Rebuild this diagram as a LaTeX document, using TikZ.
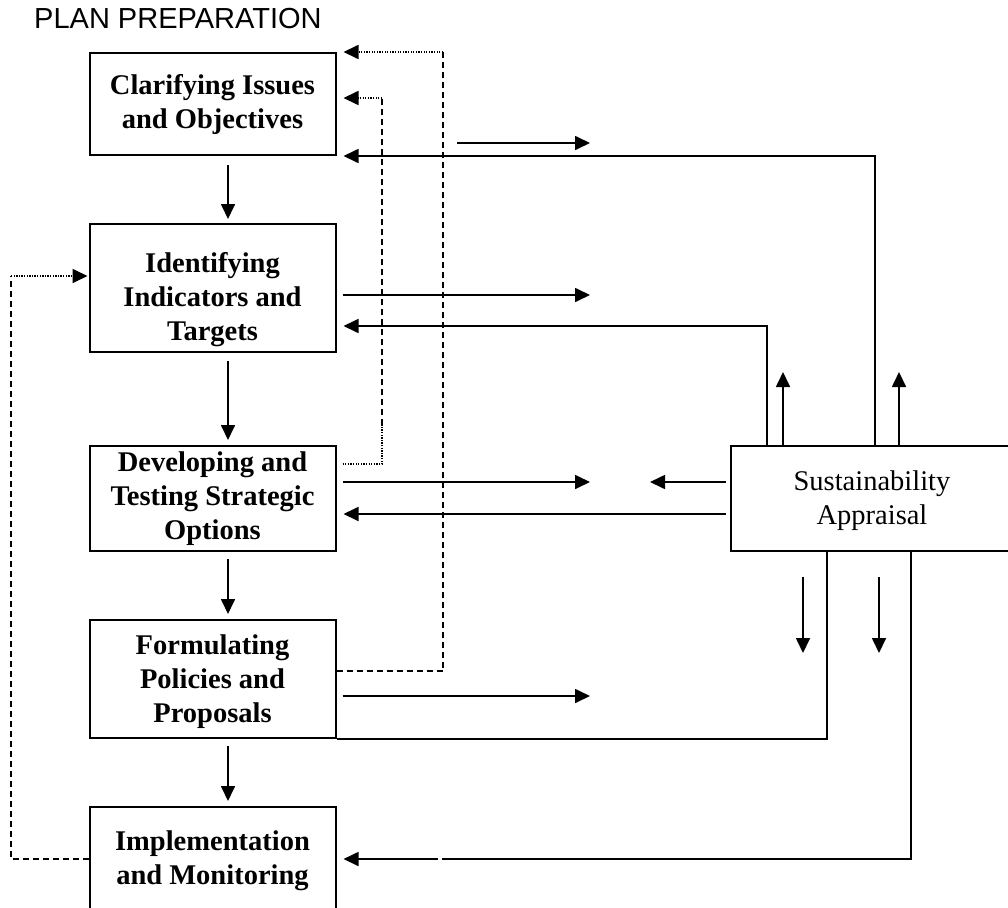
\documentclass[tikz,border=0pt]{standalone}
\usepackage{fontspec}
\setmainfont{Liberation Serif}
\newfontfamily\arialf{Liberation Sans}
\usetikzlibrary{arrows.meta,calc}
\begin{document}
\begin{tikzpicture}[x=1pt,y=-1pt,
  box/.style={draw, line width=2pt, inner sep=0pt, minimum width=246pt, align=center,
    font=\fontsize{28.5}{34}\selectfont\bfseries},
  btext/.style={inner sep=0pt, align=center, font=\fontsize{28.5}{34}\selectfont\bfseries},
  ln/.style={line width=1.7pt},
  arr/.style={line width=1.7pt, -{Triangle[length=15pt,width=14pt]}},
  dsh/.style={line width=1.7pt, dash pattern=on 6pt off 4pt},
  dtt/.style={line width=1.7pt, dash pattern=on 1.3pt off 1.3pt},
  darr/.style={dtt, -{Triangle[length=15pt,width=14pt]}},
]
\useasboundingbox (0,0) rectangle (1008,907);

% title
\node[anchor=west, inner sep=0pt, font=\arialf\fontsize{29}{34}\selectfont] (title) at (34,19) {PLAN PREPARATION};

% left column boxes
\node[box, minimum height=102pt] (b1) at (212.5,104) {Clarifying Issues\\and Objectives};
\node[box, minimum height=128pt] (b2) at (212.5,288) {};
\node[btext] (b2t) at (212.5,300) {Identifying\\Indicators and\\Targets};
\node[box, minimum height=105pt] (b3) at (212.5,498.5) {Developing and\\Testing Strategic\\Options};
\node[box, minimum height=118pt] (b4) at (212.5,679) {};
\node[btext] (b4t) at (212.5,682) {Formulating\\Policies and\\Proposals};
\node[box, minimum height=105pt] (b5) at (212.5,859.5) {};
\node[btext] (b5t) at (212.5,861) {Implementation\\and Monitoring};

% sustainability appraisal
\node[draw, line width=2pt, inner sep=0pt, minimum width=282pt, minimum height=105pt] (sa) at (872,498.5) {};
\node[inner sep=0pt, align=center, font=\fontsize{28.5}{34}\selectfont] (sat) at (872,501) {Sustainability\\Appraisal};

% vertical arrows between boxes
\draw[arr] ([xshift=15.5pt,yshift=-9pt]b1.south) -- ([xshift=15.5pt,yshift=4pt]b2.north);
\draw[arr] ([xshift=15.5pt,yshift=-8pt]b2.south) -- ([xshift=15.5pt,yshift=5pt]b3.north);
\draw[arr] ([xshift=15.5pt,yshift=-7pt]b3.south) -- ([xshift=15.5pt,yshift=5pt]b4.north);
\draw[arr] ([xshift=15.5pt,yshift=-7pt]b4.south) -- ([xshift=15.5pt,yshift=5pt]b5.north);

% coordinates
\coordinate (s1) at (457,143);
\coordinate (e1) at (590,143);
\coordinate (e2) at (590,295);
\coordinate (e3) at (590,482);
\coordinate (e4) at (590,696);
\coordinate (l1) at (650,482);
\coordinate (y514) at (0,514);
\coordinate (y326) at (0,326);
\coordinate (x875) at (875,0);
\coordinate (x767) at (767,0);
\coordinate (x827) at (827,0);
\coordinate (x911) at (911,0);
\coordinate (u1) at (783,372);
\coordinate (u2) at (899,372);
\coordinate (d1s) at (803,577);
\coordinate (d1) at (803,653);
\coordinate (d2s) at (879,577);
\coordinate (d2) at (879,653);
\coordinate (g1) at (442,859);
\coordinate (g2) at (438,859);
\coordinate (y671) at (0,671);
\coordinate (t1) at (443,52);
\coordinate (m1) at (382,464);
\coordinate (m2) at (382,425);
\coordinate (m3) at (382,98);
\coordinate (k1) at (11,859);
\coordinate (k2) at (11,276);

% arrows to the right
\draw[arr] (s1) -- (e1);
\draw[arr, shorten <=6pt] (b2.east |- e2) -- (e2);
\draw[arr, shorten <=6pt] (b3.east |- e3) -- (e3);
\draw[arr, shorten <=6pt] (b4.east |- e4) -- (e4);

% arrows from sustainability appraisal
\draw[arr, shorten <=4pt] (sa.west |- l1) -- (l1);
\draw[arr, shorten <=4pt, shorten >=7pt] (sa.west |- y514) -- (b3.east |- y514);
\draw[arr, shorten >=7pt] (sa.north -| x875) |- (b1.south east);
\draw[arr, shorten >=7pt] (sa.north -| x767) |- (b2.east |- y326);
\draw[arr] (sa.north -| u1) -- (u1);
\draw[arr] (sa.north -| u2) -- (u2);
\draw[arr] (d1s) -- (d1);
\draw[arr] (d2s) -- (d2);
\draw[ln] (sa.south -| x827) |- (b4.south east);
\draw[ln] (sa.south -| x911) |- (g1);
\draw[arr, shorten >=7pt] (g2) -- (b5.east |- g2);

% dashed / dotted feedback lines
\draw[dsh] (b4.east |- y671) -| (t1);
\draw[darr, shorten >=7pt] (t1) -- (b1.north east);
\draw[dtt, shorten <=6pt] (b3.east |- m1) -- (m1) -- (m2);
\draw[dsh] (m2) -- (m3);
\draw[darr, shorten >=7pt] (m3) -- (b1.east |- m3);
\draw[dsh] (b5.west |- k1) -- (k1) -- (k2);
\draw[darr, shorten >=1pt] (k2) -- (b2.west |- k2);
\end{tikzpicture}
\end{document}
